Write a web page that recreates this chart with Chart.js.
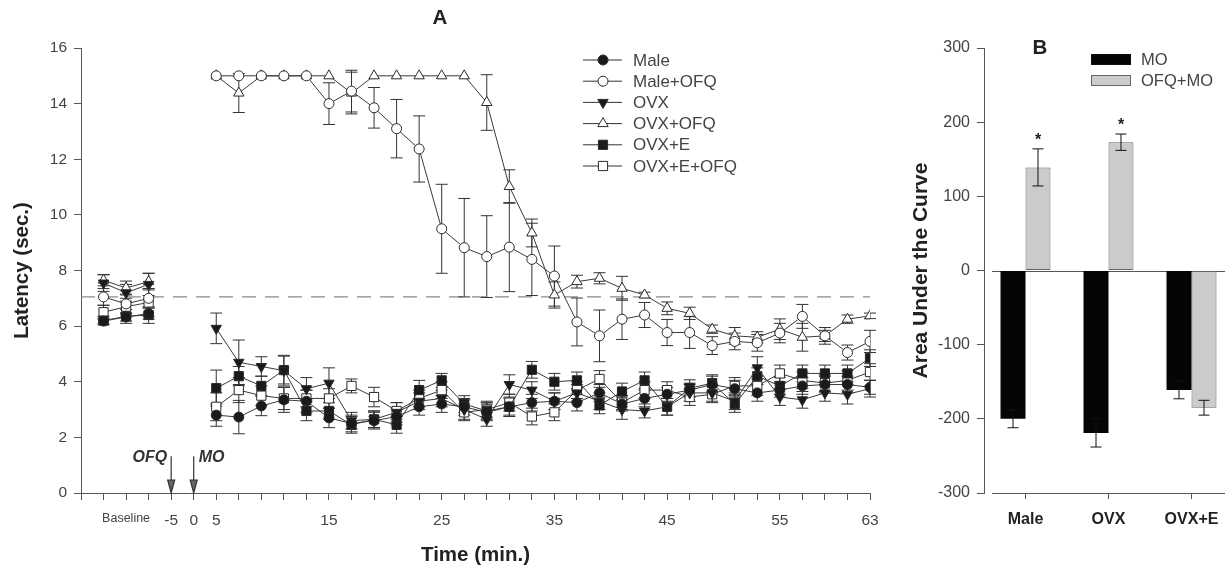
<!DOCTYPE html>
<html>
<head>
<meta charset="utf-8">
<script src="https://cdn.jsdelivr.net/npm/chart.js@4.4.1/dist/chart.umd.min.js"></script>
<style>
  html, body { margin: 0; padding: 0; background: #fff; }
  body { width: 1225px; height: 568px; overflow: hidden; position: relative; }
  canvas { position: absolute; top: 0; }
  #cA { left: 0; }
  #cB { left: 880px; }
</style>
</head>
<body>
<canvas id="cA" width="900" height="568"></canvas>
<canvas id="cB" width="360" height="568"></canvas>
<script>
// ---------- Panel A data ----------
const timePoints = ['B1','B2','B3','-5','0','5','7','9','11','13','15','17','19','21','23','25','27','29','31','33','35','37','39','41','43','45','47','49','51','53','55','57','59','61','63'];
const tickLabels = ['', 'Baseline', '', '-5', '0', '5', '', '', '', '', '15', '', '', '', '', '25', '', '', '', '', '35', '', '', '', '', '45', '', '', '', '', '55', '', '', '', '63'];

const male        = [6.18, 6.33, 6.45, null, null, 2.8, 2.73, 3.13, 3.35, 3.3, 2.7, 2.5, 2.6, 2.75, 3.1, 3.2, 3.1, 2.9, 3.1, 3.25, 3.3, 3.25, 3.6, 3.2, 3.4, 3.55, 3.7, 3.9, 3.75, 3.6, 3.7, 3.85, 3.9, 3.9, 3.8];
const maleErr     = [0.1, 0.15, 0.2, null, null, 0.4, 0.6, 0.35, 0.45, 0.4, 0.35, 0.3, 0.3, 0.3, 0.3, 0.3, 0.3, 0.3, 0.3, 0.3, 0.3, 0.3, 0.3, 0.25, 0.3, 0.25, 0.25, 0.3, 0.3, 0.3, 0.25, 0.3, 0.3, 0.3, 0.25];
const maleOFQ     = [7.05, 6.8, 7.0, null, null, 15, 15, 15, 15, 15, 14.0, 14.45, 13.85, 13.1, 12.37, 9.5, 8.82, 8.5, 8.84, 8.4, 7.8, 6.15, 5.65, 6.25, 6.4, 5.77, 5.77, 5.3, 5.45, 5.4, 5.75, 6.35, 5.65, 5.05, 5.45];
const maleOFQErr  = [0.3, 0.35, 0.35, null, null, 0, 0, 0, 0, 0, 0.75, 0.75, 0.73, 1.05, 1.19, 1.6, 1.77, 1.47, 1.6, 1.3, 1.08, 0.86, 0.93, 0.73, 0.45, 0.47, 0.57, 0.32, 0.3, 0.3, 0.35, 0.43, 0.3, 0.27, 0.4];
const ovx         = [7.55, 7.2, 7.5, null, null, 5.92, 4.7, 4.55, 4.4, 3.75, 3.95, 2.6, 2.65, 2.9, 3.3, 3.4, 3.0, 2.65, 3.9, 3.7, 3.3, 3.6, 3.3, 3.0, 2.95, 3.1, 3.6, 3.6, 3.3, 4.5, 3.45, 3.35, 3.6, 3.55, 3.75];
const ovxErr      = [0.3, 0.3, 0.4, null, null, 0.55, 0.8, 0.35, 0.55, 0.4, 0.55, 0.3, 0.3, 0.35, 0.3, 0.3, 0.35, 0.25, 0.35, 0.3, 0.3, 0.3, 0.3, 0.35, 0.25, 0.3, 0.3, 0.3, 0.3, 0.4, 0.3, 0.3, 0.3, 0.35, 0.3];
const ovxOFQ      = [7.65, 7.37, 7.6, null, null, 15, 14.38, 15, 15, 15, 15, 14.38, 15, 15, 15, 15, 15, 14.04, 11.02, 9.35, 7.12, 7.6, 7.72, 7.36, 7.12, 6.64, 6.46, 5.89, 5.65, 5.6, 5.89, 5.6, 5.65, 6.25, 6.37];
const ovxOFQErr   = [0.2, 0.25, 0.3, null, null, 0, 0.7, 0, 0, 0, 0, 0.75, 0, 0, 0, 0, 0, 1.0, 0.6, 0.5, 0.47, 0.23, 0.2, 0.43, 0.1, 0.23, 0.22, 0.15, 0.3, 0.2, 0.37, 0.5, 0.2, 0.15, 0.1];
const ovxE        = [6.2, 6.35, 6.4, null, null, 3.77, 4.2, 3.85, 4.42, 2.95, 2.95, 2.45, 2.65, 2.45, 3.7, 4.05, 3.2, 2.95, 3.1, 4.43, 4.0, 4.05, 3.15, 3.65, 4.05, 3.1, 3.77, 3.95, 3.2, 4.2, 3.85, 4.3, 4.3, 4.3, 4.85];
const ovxEErr     = [0.15, 0.25, 0.3, null, null, 0.65, 0.35, 0.35, 0.5, 0.35, 0.3, 0.3, 0.3, 0.3, 0.35, 0.25, 0.3, 0.3, 0.35, 0.3, 0.3, 0.3, 0.3, 0.3, 0.3, 0.3, 0.3, 0.3, 0.3, 0.3, 0.3, 0.3, 0.3, 0.3, 0.3];
const ovxEOFQ     = [6.5, 6.7, 6.85, null, null, 3.1, 3.7, 3.5, 3.4, 3.4, 3.4, 3.85, 3.45, 2.95, 3.4, 3.7, 2.9, 3.0, 3.25, 2.75, 2.9, 3.7, 4.1, 3.25, 3.7, 3.7, 3.45, 3.55, 3.85, 3.85, 4.3, 4.05, 3.95, 4.05, 4.35];
const ovxEOFQErr  = [0.25, 0.3, 0.5, null, null, 0.5, 0.45, 0.35, 0.4, 0.3, 0.35, 0.25, 0.35, 0.3, 0.3, 0.3, 0.3, 0.3, 0.3, 0.3, 0.3, 0.3, 0.3, 0.25, 0.3, 0.3, 0.3, 0.3, 0.3, 0.35, 0.3, 0.3, 0.3, 0.35, 0.3];

const baselineLevel = 7.05;
const injections = [{ label: 'OFQ', at: 3, side: 'left' }, { label: 'MO', at: 4, side: 'right' }];

// ---------- Panel B data ----------
const groupsB  = ['Male', 'OVX', 'OVX+E'];
const aucMO    = [-200, -219, -161];
const aucMOErr = [12, 19, 12];
const aucOFQ   = [139, 173, -185];
const aucOFQErr= [25, 11, 10];
const aucOFQSig= [true, true, false];

const FONT = "'Liberation Sans', Arial, Helvetica, sans-serif";
const INK = '#2a2a2a';
const AXIS = '#555';
const TXT = '#444';

const seriesDefs = [
  { name: 'Male',       values: male,    errs: maleErr,    style: 'circle',   rot: 0,   fill: '#1a1a1a', r: 5 },
  { name: 'Male+OFQ',   values: maleOFQ, errs: maleOFQErr, style: 'circle',   rot: 0,   fill: '#ffffff', r: 5 },
  { name: 'OVX',        values: ovx,     errs: ovxErr,     style: 'triangle', rot: 180, fill: '#1a1a1a', r: 6 },
  { name: 'OVX+OFQ',    values: ovxOFQ,  errs: ovxOFQErr,  style: 'triangle', rot: 0,   fill: '#ffffff', r: 6 },
  { name: 'OVX+E',      values: ovxE,    errs: ovxEErr,    style: 'rect',     rot: 0,   fill: '#1a1a1a', r: 6.5 },
  { name: 'OVX+E+OFQ',  values: ovxEOFQ, errs: ovxEOFQErr, style: 'rect',     rot: 0,   fill: '#ffffff', r: 6.5 }
];

const panelAPlugin = {
  id: 'panelA',
  beforeDatasetsDraw(chart) {
    const { ctx, scales: { x, y } } = chart;
    ctx.save();
    ctx.strokeStyle = '#8a8a8a';
    ctx.lineWidth = 1.2;
    ctx.setLineDash([14, 9]);
    ctx.beginPath();
    ctx.moveTo(x.getPixelForValue(-1), y.getPixelForValue(baselineLevel));
    ctx.lineTo(x.getPixelForValue(timePoints.length - 1), y.getPixelForValue(baselineLevel));
    ctx.stroke();
    ctx.restore();
    ctx.save();
    ctx.strokeStyle = '#333';
    ctx.lineWidth = 1;
    chart.data.datasets.forEach(ds => {
      ds.errs.forEach((e, i) => {
        const v = ds.raw[i];
        if (v == null || !e) return;
        const px = x.getPixelForValue(i);
        const top = y.getPixelForValue(v + e), bot = y.getPixelForValue(v - e);
        ctx.beginPath();
        ctx.moveTo(px, top); ctx.lineTo(px, bot);
        ctx.moveTo(px - 6, top); ctx.lineTo(px + 6, top);
        ctx.moveTo(px - 6, bot); ctx.lineTo(px + 6, bot);
        ctx.stroke();
      });
    });
    ctx.restore();
  },
  afterDraw(chart) {
    const { ctx, scales: { x, y } } = chart;
    ctx.save();
    injections.forEach(inj => {
      const px = x.getPixelForValue(inj.at);
      const y0 = y.getPixelForValue(0), y1 = y.getPixelForValue(1.32);
      ctx.strokeStyle = '#333'; ctx.lineWidth = 1.2;
      ctx.beginPath(); ctx.moveTo(px, y1); ctx.lineTo(px, y0 - 2); ctx.stroke();
      ctx.fillStyle = '#666';
      ctx.beginPath(); ctx.moveTo(px, y0); ctx.lineTo(px - 3.5, y0 - 13); ctx.lineTo(px + 3.5, y0 - 13); ctx.closePath();
      ctx.fill(); ctx.stroke();
      ctx.fillStyle = '#333';
      ctx.font = `italic bold 16px ${FONT}`;
      ctx.textBaseline = 'middle';
      ctx.textAlign = inj.side === 'left' ? 'right' : 'left';
      ctx.fillText(inj.label, inj.side === 'left' ? px - 4 : px + 5, y1 + 1);
    });
    const lx0 = 583, lx1 = 622, lmx = 603, ltx = 633;
    chart.data.datasets.forEach((ds, k) => {
      const ly = 60 + k * 21.2;
      ctx.strokeStyle = '#333'; ctx.lineWidth = 1;
      ctx.beginPath(); ctx.moveTo(lx0, ly); ctx.lineTo(lx1, ly); ctx.stroke();
      ctx.fillStyle = ds.pointBackgroundColor; ctx.strokeStyle = INK;
      Chart.helpers.drawPoint(ctx, { pointStyle: ds.pointStyle, rotation: ds.pointRotation, radius: ds.pointRadius, borderWidth: 1 }, lmx, ly);
      ctx.fillStyle = TXT;
      ctx.font = `17px ${FONT}`;
      ctx.textAlign = 'left'; ctx.textBaseline = 'middle';
      ctx.fillText(ds.label, ltx, ly + 1);
    });
    ctx.restore();
  }
};

new Chart(document.getElementById('cA'), {
  type: 'line',
  data: {
    datasets: seriesDefs.map(s => ({
      label: s.name,
      raw: s.values,
      errs: s.errs,
      data: s.values.map((v, i) => ({ x: i, y: v })),
      borderColor: '#3a3a3a',
      borderWidth: 1,
      pointStyle: s.style,
      pointRotation: s.rot,
      pointRadius: s.r,
      pointBackgroundColor: s.fill,
      pointBorderColor: INK,
      pointBorderWidth: 1,
      spanGaps: false,
      tension: 0
    }))
  },
  options: {
    responsive: false, animation: false, devicePixelRatio: 1,
    layout: { padding: { left: 10, right: 30, top: 0, bottom: 0 } },
    plugins: {
      legend: { display: false },
      tooltip: { enabled: false },
      title: { display: true, text: 'A', color: '#222', font: { family: FONT, size: 20.5, weight: 'bold' }, padding: { top: 6.2, bottom: 17.2 } }
    },
    scales: {
      x: {
        type: 'linear', min: -1, max: timePoints.length - 1,
        afterFit: s => { s.height = 75; },
        ticks: {
          stepSize: 1, autoSkip: false, maxRotation: 0, minRotation: 0, padding: 11, color: TXT,
          callback: v => (tickLabels[v] !== undefined ? tickLabels[v] : ''),
          font: ctx => ({ family: FONT, size: (ctx.tick && ctx.tick.value === 1) ? 12.5 : 15.5 })
        },
        grid: { drawOnChartArea: false, tickLength: 7, color: AXIS },
        border: { color: AXIS, width: 1 },
        title: { display: true, text: 'Time (min.)', color: '#222', font: { family: FONT, size: 20.5, weight: 'bold' }, padding: { top: 0, bottom: 0 } }
      },
      y: {
        min: 0, max: 16,
        afterFit: s => { s.width = 71; },
        ticks: { stepSize: 2, padding: 7, color: TXT, font: { family: FONT, size: 15.5 } },
        grid: { drawOnChartArea: false, tickLength: 7, color: AXIS },
        border: { color: AXIS, width: 1 },
        title: { display: true, text: 'Latency (sec.)', color: '#222', font: { family: FONT, size: 20.5, weight: 'bold' }, padding: { top: 0, bottom: 0 } }
      }
    }
  },
  plugins: [panelAPlugin]
});

// ---------- Panel B ----------
const panelBPlugin = {
  id: 'panelB',
  beforeDatasetsDraw(chart) {
    const { ctx, chartArea, scales: { y } } = chart;
    ctx.save();
    ctx.strokeStyle = AXIS; ctx.lineWidth = 1;
    const y0 = Math.round(y.getPixelForValue(0)) + 0.5;
    ctx.beginPath(); ctx.moveTo(chartArea.left + 8, y0); ctx.lineTo(chartArea.right + 10, y0); ctx.stroke();
    const yb = Math.round(chartArea.bottom) + 0.5;
    ctx.beginPath(); ctx.moveTo(chartArea.left + 8, yb); ctx.lineTo(chartArea.right + 10, yb); ctx.stroke();
    ctx.restore();
  },
  afterDatasetsDraw(chart) {
    const { ctx, scales: { y } } = chart;
    ctx.save();
    ctx.strokeStyle = '#111'; ctx.lineWidth = 1;
    chart.data.datasets.forEach((ds, di) => {
      const meta = chart.getDatasetMeta(di);
      meta.data.forEach((bar, i) => {
        const v = ds.data[i], e = ds.errs[i];
        const top = y.getPixelForValue(v + e), bot = y.getPixelForValue(v - e);
        ctx.beginPath();
        ctx.moveTo(bar.x, top); ctx.lineTo(bar.x, bot);
        ctx.moveTo(bar.x - 5.5, top); ctx.lineTo(bar.x + 5.5, top);
        ctx.moveTo(bar.x - 5.5, bot); ctx.lineTo(bar.x + 5.5, bot);
        ctx.stroke();
        if (ds.sig && ds.sig[i]) {
          ctx.fillStyle = '#222';
          ctx.font = `bold 16px ${FONT}`;
          ctx.textAlign = 'center'; ctx.textBaseline = 'middle';
          ctx.fillText('*', bar.x, top - 8);
        }
      });
    });
    ctx.fillStyle = '#222';
    ctx.font = `bold 20.5px ${FONT}`;
    ctx.textAlign = 'center'; ctx.textBaseline = 'middle';
    ctx.fillText('B', 160, 48);
    const items = [
      { label: chart.data.datasets[0].label, fill: chart.data.datasets[0].backgroundColor, stroke: '#111', y: 59.5 },
      { label: chart.data.datasets[1].label, fill: chart.data.datasets[1].backgroundColor, stroke: '#666', y: 80.5 }
    ];
    items.forEach(it => {
      ctx.fillStyle = it.fill; ctx.strokeStyle = it.stroke; ctx.lineWidth = 1;
      ctx.fillRect(211, it.y - 5.5, 40, 11);
      ctx.strokeRect(211.5, it.y - 5, 39, 10);
      ctx.fillStyle = TXT;
      ctx.font = `16.5px ${FONT}`;
      ctx.textAlign = 'left'; ctx.textBaseline = 'middle';
      ctx.fillText(it.label, 261, it.y + 1);
    });
    ctx.restore();
  }
};

new Chart(document.getElementById('cB'), {
  type: 'bar',
  data: {
    labels: groupsB,
    datasets: [
      { label: 'MO', data: aucMO, errs: aucMOErr, backgroundColor: '#050505', borderColor: '#050505', borderWidth: 0 },
      { label: 'OFQ+MO', data: aucOFQ, errs: aucOFQErr, sig: aucOFQSig, backgroundColor: '#cbcbcb', borderColor: '#666', borderWidth: 1, borderSkipped: false }
    ]
  },
  options: {
    responsive: false, animation: false, devicePixelRatio: 1,
    layout: { padding: { left: 28.6, right: 7, top: 48, bottom: 0 } },
    datasets: { bar: { categoryPercentage: 0.602, barPercentage: 1.0 } },
    plugins: { legend: { display: false }, tooltip: { enabled: false } },
    scales: {
      x: {
        afterFit: s => { s.height = 75; },
        ticks: { padding: 11, color: '#222', font: { family: FONT, size: 16, weight: 'bold' } },
        grid: { offset: false, drawOnChartArea: false, tickLength: 6, color: AXIS },
        border: { display: false }
      },
      y: {
        min: -300, max: 300,
        afterFit: s => { s.width = 75.4; },
        ticks: { stepSize: 100, padding: 7, color: TXT, font: { family: FONT, size: 16 } },
        grid: { drawOnChartArea: false, tickLength: 7, color: AXIS },
        border: { color: AXIS, width: 1 },
        title: { display: true, text: 'Area Under the Curve', color: '#222', font: { family: FONT, size: 21, weight: 'bold' }, padding: { top: 0, bottom: 0 } }
      }
    }
  },
  plugins: [panelBPlugin]
});
</script>
</body>
</html>
